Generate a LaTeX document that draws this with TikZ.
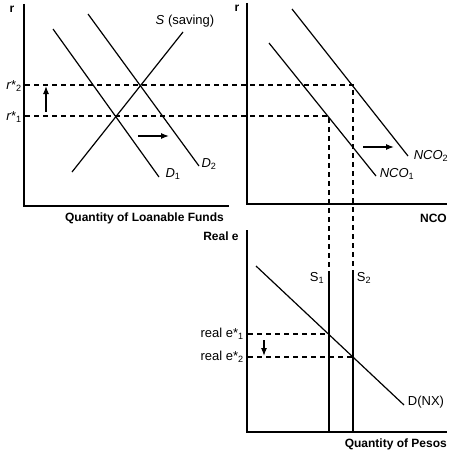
\documentclass[tikz,border=0pt]{standalone}
\usepackage{fontspec}
\setmainfont{Liberation Sans}
\usetikzlibrary{arrows.meta}
\begin{document}
\begin{tikzpicture}[x=1pt,y=-1pt,
  axis/.style={line width=2pt},
  curve/.style={line width=1.2pt},
  guide/.style={line width=1.1pt,dash pattern=on 5pt off 4pt},
  shiftarrow/.style={line width=1.2pt,-{Latex[length=8pt,width=6pt]}},
  lbl/.style={font=\fontsize{13}{15}\selectfont,inner sep=0pt},
  axlbl/.style={font=\fontsize{12}{14}\selectfont\bfseries,inner sep=0pt}]
\useasboundingbox (0,0) rectangle (451,452);
% ---------- left panel: loanable funds ----------
\coordinate (LT) at (24,4);
\coordinate (LO) at (24,206);
\coordinate (LR) at (229,206);
\draw[axis] (LT) -- (LO) -- (LR);
\node[axlbl] (lr) at (12,9) {r};
\node[axlbl,anchor=east] (lqx) at (224,218) {Quantity of Loanable Funds};
\coordinate (Sa) at (72,172); \coordinate (Sb) at (183,32);
\coordinate (D1a) at (53,29); \coordinate (D1b) at (159,177);
\coordinate (D2a) at (88,14); \coordinate (D2b) at (199,166);
\draw[curve] (Sa) -- (Sb);
\draw[curve] (D1a) -- (D1b);
\draw[curve] (D2a) -- (D2b);
\node[lbl] (sl) at (185,21) {\textit{S} (saving)};
\node[lbl] (d1) at (173,174) {\textit{D}\textsubscript{1}};
\node[lbl] (d2) at (209,164) {\textit{D}\textsubscript{2}};
\node[lbl,anchor=east] (rs2) at (22,86) {\textit{r}*\textsubscript{2}};
\node[lbl,anchor=east] (rs1) at (22,117) {\textit{r}*\textsubscript{1}};
\coordinate (ua) at (46,112); \coordinate (ub) at (46,86);
\draw[shiftarrow] (ua) -- (ub);
\coordinate (ra) at (138,136); \coordinate (rb) at (169,136);
\draw[shiftarrow] (ra) -- (rb);
% ---------- right panel: NCO ----------
\coordinate (RT) at (247,3);
\coordinate (RO) at (247,204);
\coordinate (RR) at (447,204);
\draw[axis] (RT) -- (RO) -- (RR);
\node[axlbl] (rr) at (237,8) {r};
\node[axlbl,anchor=east] (ncox) at (447,218) {NCO};
\coordinate (N1a) at (269,43); \coordinate (N1b) at (376,176);
\coordinate (N2a) at (292,9); \coordinate (N2b) at (408,156);
\draw[curve] (N1a) -- (N1b);
\draw[curve] (N2a) -- (N2b);
\node[lbl] (n1) at (397,174) {\textit{NCO}\textsubscript{1}};
\node[lbl] (n2) at (431,156) {\textit{NCO}\textsubscript{2}};
\coordinate (na) at (363,147); \coordinate (nb) at (394,147);
\draw[shiftarrow] (na) -- (nb);
% ---------- lower panel: pesos ----------
\coordinate (PT) at (247,230);
\coordinate (PO) at (247,432);
\coordinate (PR) at (447,432);
\draw[axis] (PT) -- (PO) -- (PR);
\node[axlbl] (re) at (221,236) {Real e};
\node[axlbl,anchor=east] (pqx) at (447,444) {Quantity of Pesos};
\coordinate (S1t) at (329,272); \coordinate (S1b) at (329,432);
\coordinate (S2t) at (353,272); \coordinate (S2b) at (353,432);
\draw[curve] (S1t) -- (S1b);
\draw[curve] (S2t) -- (S2b);
\node[lbl] (s1) at (317,278) {S\textsubscript{1}};
\node[lbl] (s2) at (364,278) {S\textsubscript{2}};
\coordinate (DNa) at (256,266); \coordinate (DNb) at (404,405);
\draw[curve] (DNa) -- (DNb);
\node[lbl] (dnx) at (426,402) {D(NX)};
\node[lbl,anchor=east] (e1) at (244,334) {real e*\textsubscript{1}};
\node[lbl,anchor=east] (e2) at (244,357) {real e*\textsubscript{2}};
\coordinate (da) at (264,340); \coordinate (db) at (264,356);
\draw[shiftarrow] (da) -- (db);
% ---------- dashed guides ----------
\coordinate (g2a) at (25,85); \coordinate (g2b) at (353,85);
\coordinate (g1a) at (25,116); \coordinate (g1b) at (329,116);
\draw[guide] (g2a) -- (g2b) -- (S2t);
\draw[guide] (g1a) -- (g1b) -- (S1t);
\coordinate (h1a) at (248,334); \coordinate (h1b) at (329,334);
\coordinate (h2a) at (248,357); \coordinate (h2b) at (353,357);
\draw[guide] (h1a) -- (h1b);
\draw[guide] (h2a) -- (h2b);
\end{tikzpicture}
\end{document}
